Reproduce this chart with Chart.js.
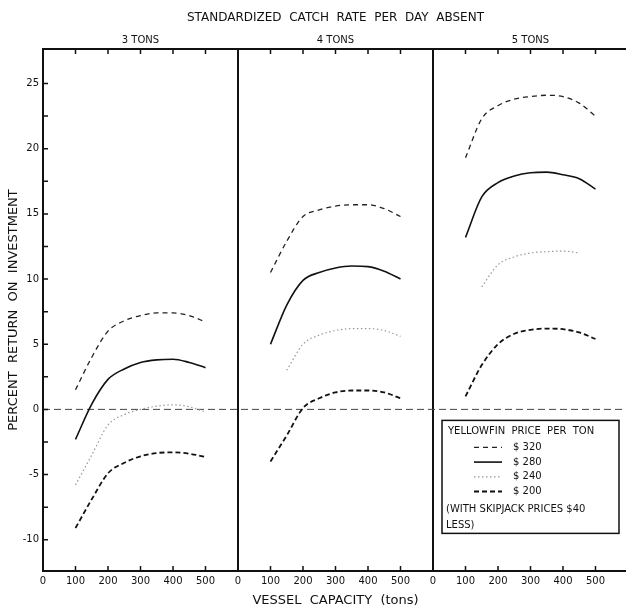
<!DOCTYPE html>
<html>
<head>
<meta charset="utf-8">
<title>Percent return on investment</title>
<script src="https://cdn.jsdelivr.net/npm/chart.js@4.4.0/dist/chart.umd.min.js"></script>
<style>
  html, body { margin: 0; padding: 0; background: #fff; overflow: hidden; }
  canvas { display: block; }
</style>
</head>
<body>
<canvas id="returnChart" width="640" height="608"></canvas>
<script>
// Vessel capacities (tons) at which returns were computed
const capacities = [100, 150, 200, 250, 300, 350, 400, 450, 500];
const panelLabels = ['3 TONS', '4 TONS', '5 TONS'];
const priceLabels = ['$ 320', '$ 280', '$ 240', '$ 200'];

// Percent return on investment, by catch rate (tons/day) and yellowfin price
const ret3_320 = [1.5, 4.0, 6.0, 6.8, 7.2, 7.4, 7.4, 7.2, 6.7];
const ret3_280 = [-2.3, 0.4, 2.3, 3.1, 3.6, 3.8, 3.85, 3.6, 3.2];
const ret3_240 = [-5.8, -3.5, -1.2, -0.4, 0.0, 0.25, 0.35, 0.2, -0.2];
const ret3_200 = [-9.1, -6.9, -4.9, -4.1, -3.6, -3.35, -3.3, -3.4, -3.65];

const ret4_320 = [10.5, 12.9, 14.8, 15.3, 15.6, 15.7, 15.7, 15.4, 14.8];
const ret4_280 = [5.0, 8.0, 9.9, 10.5, 10.85, 11.0, 10.95, 10.6, 10.0];
const ret4_240 = [null, 3.0, 5.0, 5.7, 6.05, 6.2, 6.2, 6.05, 5.6];
const ret4_200 = [-4.0, -2.0, 0.1, 0.85, 1.3, 1.45, 1.45, 1.3, 0.85];

const ret5_320 = [19.3, 22.3, 23.3, 23.8, 24.0, 24.1, 24.0, 23.5, 22.5];
const ret5_280 = [13.2, 16.3, 17.4, 17.9, 18.15, 18.2, 18.0, 17.7, 16.9];
const ret5_240 = [null, 9.4, 11.1, 11.7, 12.0, 12.1, 12.15, 12.0, null];
const ret5_200 = [1.0, 3.4, 5.0, 5.8, 6.1, 6.2, 6.15, 5.9, 5.4];

// each panel gets its own 0-600 ton stretch of one long x axis
const panelSpan = 600;

const lineStyles = [
  { color: '#222', width: 1.3, dash: [5, 4] },
  { color: '#111', width: 1.6, dash: [] },
  { color: '#9a9a9a', width: 1.2, dash: [1.5, 2.5] },
  { color: '#111', width: 1.8, dash: [5, 3] }
];

const panels = [
  [ret3_320, ret3_280, ret3_240, ret3_200],
  [ret4_320, ret4_280, ret4_240, ret4_200],
  [ret5_320, ret5_280, ret5_240, ret5_200]
];

Chart.defaults.font.family = '"DejaVu Sans", sans-serif';
Chart.defaults.color = '#111';

const datasets = [];
panels.forEach((series, p) => {
  series.forEach((vals, k) => {
    const s = lineStyles[k];
    datasets.push({
      label: panelLabels[p] + ' ' + priceLabels[k],
      data: capacities
        .map((c, i) => ({ x: p * panelSpan + c, y: vals[i] }))
        .filter(pt => pt.y !== null),
      borderColor: s.color,
      borderWidth: s.width,
      borderDash: s.dash,
      pointRadius: 0,
      cubicInterpolationMode: 'monotone',
      fill: false
    });
  });
});

// break-even line
datasets.push({
  label: 'zero',
  data: [{ x: 0, y: 0 }, { x: panelSpan * panels.length, y: 0 }],
  borderColor: '#444',
  borderWidth: 1,
  borderDash: [7, 4],
  pointRadius: 0
});

// inward tick marks on the frame
const frameTicks = {
  id: 'frameTicks',
  afterDatasetsDraw(chart) {
    const { ctx, chartArea: a, scales: { x, y } } = chart;
    ctx.save();
    ctx.strokeStyle = '#111';
    ctx.lineWidth = 1.5;
    ctx.beginPath();
    x.ticks.forEach(t => {
      if (t.value % panelSpan === 0) return;
      const px = x.getPixelForValue(t.value);
      ctx.moveTo(px, a.top);
      ctx.lineTo(px, a.top + 5);
      ctx.moveTo(px, a.bottom);
      ctx.lineTo(px, a.bottom - 5);
    });
    y.ticks.forEach(t => {
      if (t.value % 2.5 !== 0) return;
      const py = y.getPixelForValue(t.value);
      ctx.moveTo(a.left, py);
      ctx.lineTo(a.left + 5, py);
    });
    ctx.stroke();
    ctx.restore();
  }
};

// price key boxed inside the last panel
const priceKey = {
  id: 'priceKey',
  afterDraw(chart) {
    const { ctx, scales: { x, y } } = chart;
    const left = x.getPixelForValue(2 * panelSpan) + 9;
    const top = y.getPixelForValue(0) + 11;
    const w = 177, h = 113;
    ctx.save();
    ctx.fillStyle = '#fff';
    ctx.fillRect(left, top, w, h);
    ctx.strokeStyle = '#111';
    ctx.lineWidth = 1.5;
    ctx.strokeRect(left, top, w, h);
    ctx.font = '10px "DejaVu Sans"';
    ctx.fillStyle = '#111';
    ctx.textBaseline = 'middle';
    ctx.fillText('YELLOWFIN  PRICE  PER  TON', left + 6, top + 11);
    priceLabels.forEach((lbl, k) => {
      const rowY = top + 27 + k * 14.7;
      const s = lineStyles[k];
      ctx.strokeStyle = s.color;
      ctx.lineWidth = s.width;
      ctx.setLineDash(s.dash);
      ctx.beginPath();
      ctx.moveTo(left + 32, rowY);
      ctx.lineTo(left + 60, rowY);
      ctx.stroke();
      ctx.setLineDash([]);
      ctx.fillText(lbl, left + 71, rowY);
    });
    ctx.fillText('(WITH SKIPJACK PRICES $40', left + 4, top + 89);
    ctx.fillText('LESS)', left + 4, top + 105);
    ctx.restore();
  }
};

const ctx = document.getElementById('returnChart').getContext('2d');

const returnChart = new Chart(ctx, {
  type: 'line',
  data: { datasets: datasets },
  options: {
    responsive: false,
    animation: false,
    layout: { padding: { right: 12 } },
    scales: {
      x: {
        type: 'linear',
        min: 0,
        max: panelSpan * panels.length,
        ticks: {
          stepSize: 100,
          autoSkip: false,
          maxRotation: 0,
          padding: 4,
          font: { size: 10 },
          callback: v => (v >= panelSpan * panels.length ? '' : String(v % panelSpan))
        },
        grid: {
          drawTicks: false,
          lineWidth: 2,
          color: c => (c.tick && c.tick.value % panelSpan === 0 ? '#111' : 'rgba(0,0,0,0)')
        },
        border: { color: '#111', width: 2 },
        title: {
          display: true,
          text: 'VESSEL  CAPACITY  (tons)',
          font: { size: 13 },
          padding: { top: 2, bottom: 0 }
        },
        afterFit: s => { s.height = 37; }
      },
      xTop: {
        type: 'linear',
        position: 'top',
        min: 0,
        max: panelSpan * panels.length,
        afterBuildTicks: s => {
          s.ticks = panelLabels.map((_, i) => ({ value: i * panelSpan + panelSpan / 2 }));
        },
        ticks: {
          autoSkip: false,
          maxRotation: 0,
          padding: 3,
          font: { size: 10 },
          callback: (v, i) => panelLabels[i]
        },
        grid: { display: false, drawTicks: false },
        border: { display: true, color: '#111', width: 2 },
        afterFit: s => { s.height = 17.6; }
      },
      y: {
        min: -12.4,
        max: 27.65,
        ticks: {
          stepSize: 2.5,
          autoSkip: false,
          padding: 4,
          font: { size: 10 },
          callback: v => (v % 5 === 0 ? String(v) : '')
        },
        grid: { display: false, drawTicks: false },
        border: { color: '#111', width: 2 },
        title: {
          display: true,
          text: 'PERCENT  RETURN  ON  INVESTMENT',
          font: { size: 13 },
          padding: { top: 6, bottom: 0 }
        },
        afterFit: s => { s.width = 43; }
      }
    },
    plugins: {
      legend: { display: false },
      tooltip: { enabled: false },
      title: {
        display: true,
        fullSize: false,
        text: 'STANDARDIZED  CATCH  RATE  PER  DAY  ABSENT',
        font: { size: 12, weight: 'normal' },
        padding: { top: 11, bottom: 6 }
      }
    }
  },
  plugins: [frameTicks, priceKey]
});
</script>
</body>
</html>
